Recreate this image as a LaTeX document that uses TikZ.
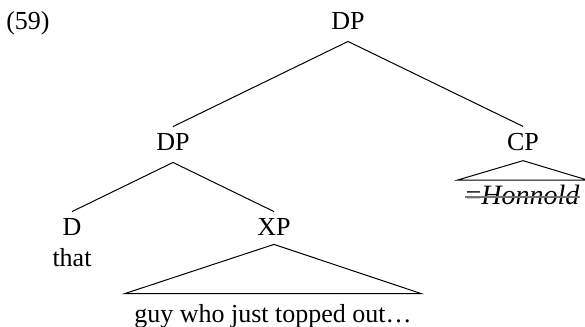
\documentclass[tikz,border=0pt]{standalone}
\usepackage{fontspec}
\setmainfont{Liberation Serif}
\usepackage{tikz}
\tikzstyle{cat} = [inner xsep=2pt, inner ysep=3pt, font=\fontsize{13}{15.6}\selectfont, anchor=base]
\tikzstyle{yield} = [inner xsep=4.5pt, inner ysep=5pt, font=\fontsize{13}{15.6}\selectfont, anchor=base]
\tikzstyle{branch} = [line width=0.5pt]
\tikzstyle{strike} = [line width=0.7pt, black!55]

\begin{document}
\begin{tikzpicture}[x=0.5pt, y=-0.5pt]
    \useasboundingbox (0,0) rectangle (585,327);
    \node (ex) [cat] at (28,29) {(59)};
    \node (dp0) [cat] at (348,29) {DP};
    \node (dp1) [cat] at (173,150) {DP};
    \node (cp) [cat] at (523,150) {CP};
    \draw [branch] ([yshift=-3pt]dp0.south) -- (dp1.north);
    \draw [branch] ([yshift=-3pt]dp0.south) -- (cp.north);
    \node (d) [cat] at (72,235) {D};
    \node (that) [cat] at (72,266) {that};
    \node (xp) [cat] at (274,235) {XP};
    \draw [branch] ([yshift=-3pt]dp1.south) -- (d.north);
    \draw [branch] ([yshift=-3pt]dp1.south) -- (xp.north);
    \node (guy) [yield] at (273,322) {guy who just topped out\ldots};
    \draw [branch] ([yshift=-1.5pt]xp.south) -- (guy.north west) -- (guy.north east) -- cycle;
    \node (hon) [yield, inner xsep=4pt, inner ysep=2pt, font=\fontsize{14}{16.8}\selectfont] at (522.5,204) {=\textit{Honnold}};
    \draw [branch] ([yshift=-2pt]cp.south) -- (hon.north west) -- (hon.north east) -- cycle;
    \draw [strike] ([xshift=4pt,yshift=3.5pt]hon.base west) -- ([xshift=-4pt,yshift=3.5pt]hon.base east);
\end{tikzpicture}
\end{document}
